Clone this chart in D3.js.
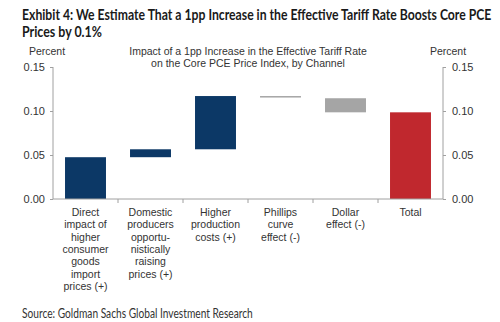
<!DOCTYPE html>
<html>
<head>
<meta charset="utf-8">
<script src="https://cdn.jsdelivr.net/npm/d3@7"></script>
<style>
  body { margin: 0; background: #fff; }
  svg { display: block; }
</style>
</head>
<body>
<div id="chart"></div>
<script>
// Chart data
const categories = [
  ["Direct", "impact of", "higher", "consumer", "goods", "import", "prices (+)"],
  ["Domestic", "producers", "opportu-", "nistically", "raising", "prices (+)"],
  ["Higher", "production", "costs (+)"],
  ["Phillips", "curve", "effect (-)"],
  ["Dollar", "effect (-)"],
  ["Total"]
];
const barStart = [0, 0.0475, 0.0565, 0.117, 0.1145, 0];
const barEnd   = [0.0475, 0.0565, 0.117, 0.1155, 0.0985, 0.0985];
const barKind  = ["up", "up", "up", "down", "down", "total"];
const yTicks = [0, 0.05, 0.10, 0.15];

const W = 500, H = 322;
const margin = { top: 67, right: 57, bottom: 123, left: 53 },
      width = W - margin.left - margin.right,
      height = H - margin.top - margin.bottom;

const colors = { up: "#0c3866", down: "#a5a5a5", total: "#c0282e" };
const axisColor = "#a0a0a0";

const svg = d3.select("#chart").append("svg")
    .attr("width", W).attr("height", H);

// Condensed text: squeeze horizontally to the reference width
const titleFont = "Lato, 'Open Sans', sans-serif";
function squeezed(xPos, yPos, size, weight, fill, txt, targetWidth) {
  const t = svg.append("text")
      .attr("x", 0).attr("y", 0)
      .attr("font-family", titleFont).attr("font-weight", weight)
      .attr("font-size", size).attr("fill", fill)
      .text(txt);
  const k = targetWidth / t.node().getComputedTextLength();
  t.attr("transform", `translate(${xPos},${yPos}) scale(${k},1)`);
  return t;
}

squeezed(22, 20, 15.5, "bold", "#1a1a1a",
  "Exhibit 4: We Estimate That a 1pp Increase in the Effective Tariff Rate Boosts Core PCE", 470);
squeezed(22, 37, 15.5, "bold", "#1a1a1a", "Prices by 0.1%", 80);

const g = svg.append("g").attr("transform", `translate(${margin.left},${margin.top})`);

const x = d3.scaleBand()
    .domain(d3.range(categories.length))
    .range([0, width])
    .paddingInner(0.37)
    .paddingOuter(0.185);

const y = d3.scaleLinear().domain([0, 0.15]).range([height, 0]);

// Subtitle
const sub = svg.append("text")
    .attr("font-family", "'Liberation Sans', Arial, sans-serif")
    .attr("font-size", 10.5)
    .attr("fill", "#333")
    .attr("text-anchor", "middle");
sub.append("tspan").attr("x", 248).attr("y", 55).text("Impact of a 1pp Increase in the Effective Tariff Rate");
sub.append("tspan").attr("x", 248).attr("y", 67).text("on the Core PCE Price Index, by Channel");

svg.append("text")
    .attr("x", 47).attr("y", 55)
    .attr("text-anchor", "middle")
    .attr("font-family", "'Liberation Sans', Arial, sans-serif")
    .attr("font-size", 10.5).attr("fill", "#333")
    .text("Percent");
svg.append("text")
    .attr("x", 448).attr("y", 55)
    .attr("text-anchor", "middle")
    .attr("font-family", "'Liberation Sans', Arial, sans-serif")
    .attr("font-size", 10.5).attr("fill", "#333")
    .text("Percent");

// Bars
g.selectAll(".bar")
  .data(barStart.map((s, i) => ({ i, s, e: barEnd[i], kind: barKind[i] })))
  .enter().append("rect")
    .attr("class", "bar")
    .attr("x", d => x(d.i))
    .attr("width", x.bandwidth())
    .attr("y", d => y(Math.max(d.s, d.e)))
    .attr("height", d => Math.max(1.5, Math.abs(y(d.s) - y(d.e))))
    .attr("fill", d => colors[d.kind]);

// Axes
function styleAxis(sel) {
  sel.selectAll("path, line").attr("stroke", axisColor);
  sel.selectAll("text")
     .attr("fill", "#333")
     .attr("font-family", "'Liberation Sans', Arial, sans-serif")
     .attr("font-size", 11);
}

g.append("g")
  .attr("class", "y-axis")
  .call(d3.axisLeft(y).tickValues(yTicks).tickFormat(d3.format(".2f")).tickSize(3).tickPadding(5))
  .call(styleAxis)
  .call(a => a.select(".domain").attr("d", `M0,${height}V0`));

g.append("g")
  .attr("class", "y-axis-right")
  .attr("transform", `translate(${width},0)`)
  .call(d3.axisRight(y).tickValues(yTicks).tickFormat(d3.format(".2f")).tickSize(3).tickPadding(6))
  .call(styleAxis)
  .call(a => a.select(".domain").attr("d", `M0,${height}V0`));

// X axis: baseline with ticks on band boundaries
const xAxis = g.append("g").attr("class", "x-axis").attr("transform", `translate(0,${height})`);
xAxis.append("line").attr("x1", 0).attr("x2", width).attr("stroke", axisColor);
const step = x.step();
xAxis.selectAll(".xtick")
  .data(d3.range(1, categories.length))
  .enter().append("line")
    .attr("class", "xtick")
    .attr("x1", d => x(d) - step * x.paddingInner() / 2)
    .attr("x2", d => x(d) - step * x.paddingInner() / 2)
    .attr("y1", 0).attr("y2", 4)
    .attr("stroke", axisColor);

const labels = xAxis.selectAll(".xlabel")
  .data(categories)
  .enter().append("text")
    .attr("class", "xlabel")
    .attr("text-anchor", "middle")
    .attr("font-family", "'Liberation Sans', Arial, sans-serif")
    .attr("font-size", 10.5)
    .attr("fill", "#333");
labels.each(function(lines, i) {
  const t = d3.select(this);
  lines.forEach((ln, j) => {
    t.append("tspan")
      .attr("x", x(i) + x.bandwidth() / 2)
      .attr("y", 17 + j * 12.3)
      .text(ln);
  });
});

// Source
squeezed(22, 318, 12.5, "normal", "#333", "Source: Goldman Sachs Global Investment Research", 231);
</script>
</body>
</html>
